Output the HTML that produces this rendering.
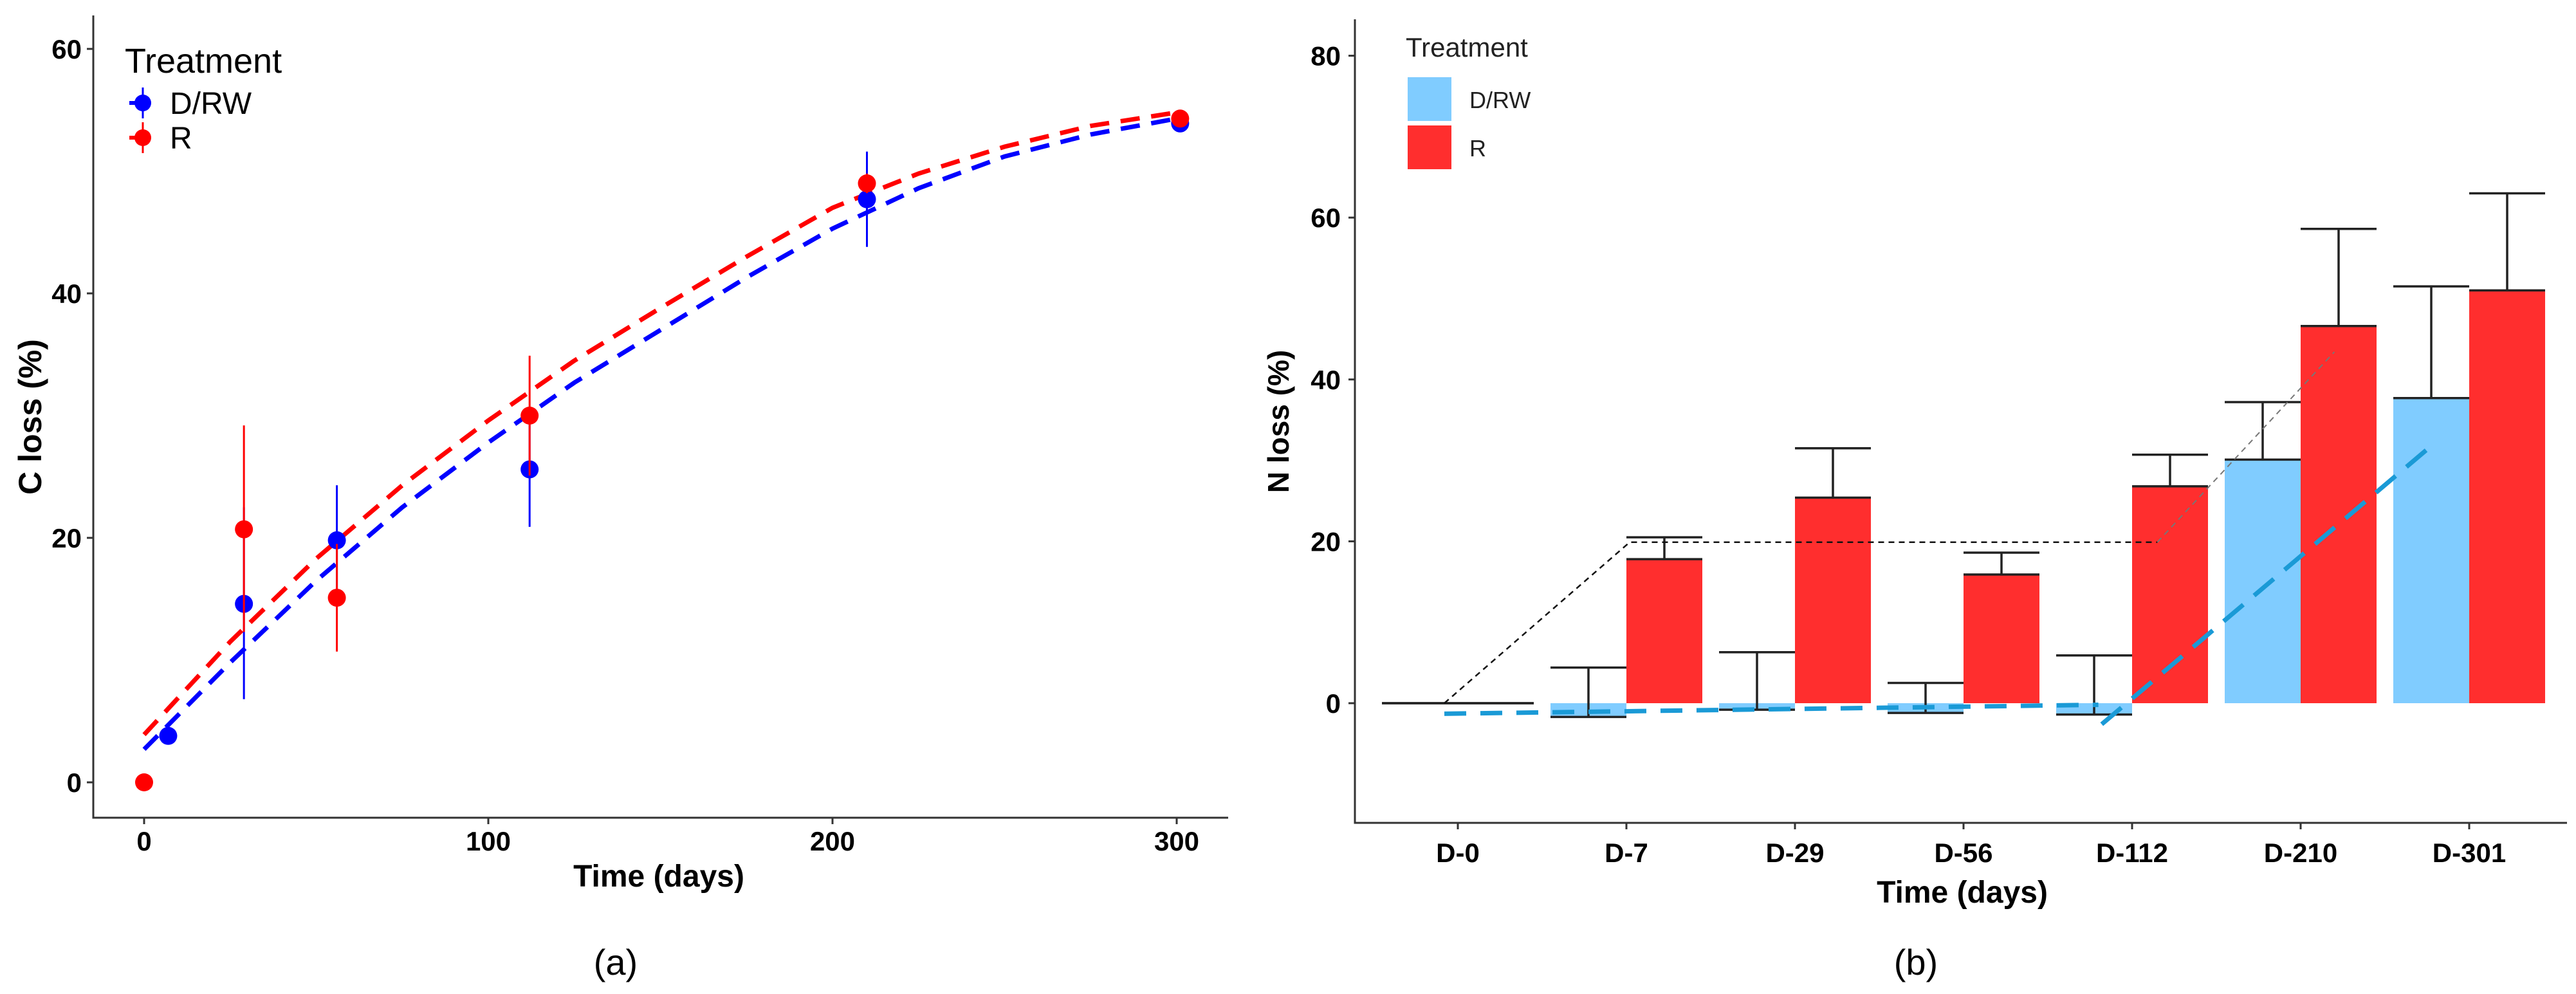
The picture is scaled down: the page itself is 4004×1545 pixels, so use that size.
<!DOCTYPE html>
<html><head><meta charset="utf-8">
<style>
html,body{margin:0;padding:0;background:#fff;}
svg{display:block;}
text{font-family:"Liberation Sans",Arial,sans-serif;}
</style></head>
<body>
<svg id="fig" width="4004" height="1545" viewBox="0 0 4004 1545" xmlns="http://www.w3.org/2000/svg"></svg>
<script>
// ===== Panel (a) data =====
const cDays = [0, 7, 29, 56, 112, 210, 301];
const cDRW = [null, 3.8, 14.6, 19.8, 25.6, 47.7, 53.9];
const cDRWlo = [null, 3.8, 6.8, 15.4, 20.9, 43.8, 53.9];
const cDRWhi = [null, 3.8, 22.5, 24.3, 30.3, 51.6, 53.9];
const cR = [0, null, 20.7, 15.1, 30.0, 49.0, 54.3];
const cRlo = [0, null, 12.3, 10.7, 25.1, 48.2, 54.3];
const cRhi = [0, null, 29.2, 19.5, 34.9, 49.8, 54.3];
const fitDays = [0, 25, 50, 75, 100, 125, 150, 175, 200, 225, 250, 275, 300];
const fitR = [3.9, 11.5, 18.3, 24.3, 29.6, 34.5, 38.8, 43.0, 47.0, 49.8, 52.0, 53.7, 54.8];
const fitDRW = [2.7, 9.8, 16.5, 22.5, 27.8, 32.7, 37.0, 41.3, 45.3, 48.6, 51.2, 53.0, 54.3];
const cXTicks = [0, 100, 200, 300];
const cYTicks = [0, 20, 40, 60];

// ===== Panel (b) data =====
const nCats = ["D-0", "D-7", "D-29", "D-56", "D-112", "D-210", "D-301"];
const nDRW = [0, -1.7, -0.8, -1.2, -1.4, 30.1, 37.7];
const nDRWhi = [0, 4.4, 6.3, 2.5, 5.9, 37.2, 51.5];
const nR = [0, 17.8, 25.4, 15.9, 26.8, 46.6, 51.0];
const nRhi = [0, 20.5, 31.5, 18.6, 30.7, 58.6, 63.0];
const nYTicks = [0, 20, 40, 60, 80];
const trend1Pos = [-0.08, 3.8];
const trend1Val = [-1.3, -0.2];
const trend2Pos = [3.82, 5.77];
const trend2Val = [-2.6, 31.7];
const refPos = [-0.08, 1.02, 4.15];
const refVal = [0, 19.9, 19.9];
const ref2Pos = [4.15, 5.2];
const ref2Val = [19.9, 43.4];

const NS = "http://www.w3.org/2000/svg";
const svg = document.getElementById("fig");
function mk(tag, attrs, parent) {
  const e = document.createElementNS(NS, tag);
  for (const k in attrs) e.setAttribute(k, attrs[k]);
  (parent || svg).appendChild(e);
  return e;
}
function txt(s, attrs, parent) { const t = mk("text", attrs, parent); t.textContent = s; return t; }

// scales
const xA = t => 224 + t * 5.35;
const yA = v => 1216 - v * 19;
const xB = i => 2266 + i * 262;
const yB = v => 1093 - v * 12.58;
const BW = 118;

// ===== Panel (a) =====
const gA = mk("g", {});



const axA = mk("path", {d: `M145 24 V1271 H1909`, stroke: "#333", "stroke-width": 3, fill: "none"}, gA);


cYTicks.forEach(v => {
  const tk = mk("line", {x1: 135, x2: 145, y1: yA(v), y2: yA(v), stroke: "#333", "stroke-width": 3}, gA);
  
  
  const lb = txt(String(v), {x: 127, y: yA(v) + 15, "text-anchor": "end", "font-size": 42, "font-weight": "bold"}, gA);
  
  
});
cXTicks.forEach(v => {
  const tk = mk("line", {x1: xA(v), x2: xA(v), y1: 1271, y2: 1281, stroke: "#333", "stroke-width": 3}, gA);
  
  
  const lb = txt(String(v), {x: xA(v), y: 1322, "text-anchor": "middle", "font-size": 42, "font-weight": "bold"}, gA);
  
  
});
const xtA = txt("Time (days)", {x: 1024, y: 1378, "text-anchor": "middle", "font-size": 48, "font-weight": "bold"}, gA);


const ytA = txt("C loss (%)", {x: 0, y: 0, transform: "translate(64,648) rotate(-90)", "text-anchor": "middle", "font-size": 50, "font-weight": "bold"}, gA);



function fitPath(vals) {
  return fitDays.map((d, i) => (i ? "L" : "M") + xA(d).toFixed(1) + " " + yA(vals[i]).toFixed(1)).join(" ");
}
const fr = mk("path", {d: fitPath(fitR), stroke: "#ff0000", "stroke-width": 7, fill: "none", "stroke-dasharray": "30 18"}, gA);


const fb = mk("path", {d: fitPath(fitDRW), stroke: "#0000ff", "stroke-width": 7, fill: "none", "stroke-dasharray": "30 18"}, gA);



function points(vals, lo, hi, color, name) {
  cDays.forEach((d, i) => {
    if (vals[i] === null) return;
    const eb = mk("line", {x1: xA(d), x2: xA(d), y1: yA(lo[i]), y2: yA(hi[i]), stroke: color, "stroke-width": 3}, gA);
    
    
    const c = mk("circle", {cx: xA(d), cy: yA(vals[i]), r: 14, fill: color}, gA);
    
    
  });
}
points(cDRW, cDRWlo, cDRWhi, "#0000ff", "drw");
points(cR, cRlo, cRhi, "#ff0000", "r");

// legend a
const lgA = mk("g", {}, gA);


const lgAt = txt("Treatment", {x: 194, y: 113, "font-size": 54}, lgA);


[["D/RW", "#0000ff", 160], ["R", "#ff0000", 214]].forEach(([lab, col, y]) => {
  const e = mk("g", {}, lgA);
  
  
  mk("line", {x1: 222, x2: 222, y1: y - 24, y2: y + 24, stroke: col, "stroke-width": 3}, e);
  mk("line", {x1: 201, x2: 222, y1: y, y2: y, stroke: col, "stroke-width": 6}, e);
  mk("circle", {cx: 222, cy: y, r: 13, fill: col}, e);
  txt(lab, {x: 264, y: y + 17, "font-size": 48}, e);
});

const capA = txt("(a)", {x: 957, y: 1515, "text-anchor": "middle", "font-size": 56}, gA);



// ===== Panel (b) =====
const gB = mk("g", {});



// bars
nCats.forEach((c, i) => {
  const v1 = nDRW[i], v2 = nR[i];
  const b1 = mk("rect", {x: xB(i) - BW, y: Math.min(yB(0), yB(v1)), width: BW, height: Math.abs(yB(v1) - yB(0)), fill: "#80ccff"}, gB);
  
  
  const b2 = mk("rect", {x: xB(i), y: Math.min(yB(0), yB(v2)), width: BW, height: Math.abs(yB(v2) - yB(0)), fill: "#ff2e2e"}, gB);
  
  
});
// error bars
function ebar(cx, lo, hi, name) {
  const g = mk("g", {stroke: "#222", "stroke-width": 3.5}, gB);
  
  
  mk("line", {x1: cx, x2: cx, y1: yB(lo), y2: yB(hi)}, g);
  mk("line", {x1: cx - BW / 2, x2: cx + BW / 2, y1: yB(lo), y2: yB(lo)}, g);
  mk("line", {x1: cx - BW / 2, x2: cx + BW / 2, y1: yB(hi), y2: yB(hi)}, g);
}
nCats.forEach((c, i) => {
  ebar(xB(i) - BW / 2, nDRW[i], nDRWhi[i], 'error-bar-drw');
  ebar(xB(i) + BW / 2, nR[i], nRhi[i], 'error-bar-r');
});

// reference / trend lines
function linePath(pos, val) { return pos.map((p, i) => (i ? "L" : "M") + xB(p).toFixed(1) + " " + yB(val[i]).toFixed(1)).join(" "); }
const r1 = mk("path", {d: linePath(refPos, refVal), stroke: "#111", "stroke-width": 2.5, fill: "none", "stroke-dasharray": "9 7"}, gB);


const r2 = mk("path", {d: linePath(ref2Pos, ref2Val), stroke: "#777", "stroke-width": 2, fill: "none", "stroke-dasharray": "9 7"}, gB);


const t1 = mk("path", {d: linePath(trend1Pos, trend1Val), stroke: "#1a9ad6", "stroke-width": 7, fill: "none", "stroke-dasharray": "34 22"}, gB);


const t2 = mk("path", {d: linePath(trend2Pos, trend2Val), stroke: "#1a9ad6", "stroke-width": 7, fill: "none", "stroke-dasharray": "40 22"}, gB);



// axes b
const axB = mk("path", {d: `M2106 30 V1279 H3990`, stroke: "#333", "stroke-width": 3, fill: "none"}, gB);


nYTicks.forEach(v => {
  const tk = mk("line", {x1: 2096, x2: 2106, y1: yB(v), y2: yB(v), stroke: "#333", "stroke-width": 3}, gB);
  
  
  const lb = txt(String(v), {x: 2084, y: yB(v) + 15, "text-anchor": "end", "font-size": 42, "font-weight": "bold"}, gB);
  
  
});
nCats.forEach((c, i) => {
  const tk = mk("line", {x1: xB(i), x2: xB(i), y1: 1279, y2: 1289, stroke: "#333", "stroke-width": 3}, gB);
  
  
  const lb = txt(c, {x: xB(i), y: 1340, "text-anchor": "middle", "font-size": 42, "font-weight": "bold"}, gB);
  
  
});
const xtB = txt("Time (days)", {x: 3050, y: 1403, "text-anchor": "middle", "font-size": 48, "font-weight": "bold"}, gB);


const ytB = txt("N loss (%)", {x: 0, y: 0, transform: "translate(2003,655) rotate(-90)", "text-anchor": "middle", "font-size": 46, "font-weight": "bold"}, gB);



// legend b
const lgB = mk("g", {}, gB);


const lgBt = txt("Treatment", {x: 2185, y: 88, "font-size": 42, fill: "#222"}, lgB);


[["D/RW", "#80ccff", 120], ["R", "#ff2e2e", 195]].forEach(([lab, col, y]) => {
  const e = mk("g", {}, lgB);
  
  
  mk("rect", {x: 2188, y: y, width: 68, height: 68, fill: col}, e);
  txt(lab, {x: 2284, y: y + 48, "font-size": 36, fill: "#222"}, e);
});

const capB = txt("(b)", {x: 2978, y: 1515, "text-anchor": "middle", "font-size": 56}, gB);


</script>
</body></html>
